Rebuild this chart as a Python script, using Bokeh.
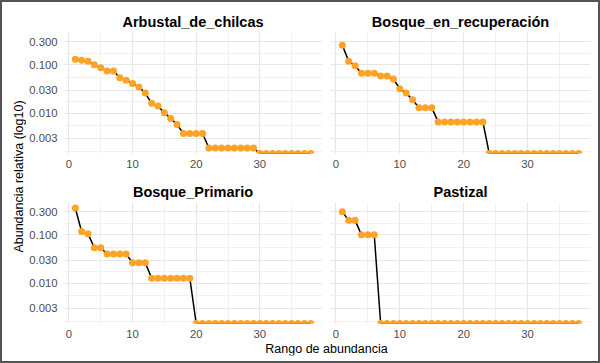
import math
from bokeh.plotting import figure
from bokeh.layouts import row, column
from bokeh.models import Range1d, FixedTicker, NumeralTickFormatter, Label
from bokeh.embed import file_html
from bokeh.resources import INLINE

# ---------------- data ----------------
ranks = list(range(1, 39))
panel_titles = ["Arbustal_de_chilcas", "Bosque_en_recuperación", "Bosque_Primario", "Pastizal"]

arbustal = [0.131, 0.125, 0.119, 0.100, 0.087, 0.075, 0.075, 0.054, 0.048, 0.041,
            0.035, 0.026, 0.016, 0.014, 0.0102, 0.0078, 0.0058, 0.0038, 0.0038, 0.0038,
            0.0038, 0.0019, 0.0019, 0.0019, 0.0019, 0.0019, 0.0019, 0.0019, 0.0019, 0,
            0, 0, 0, 0, 0, 0, 0, 0]
bosque_rec = [0.256, 0.119, 0.096, 0.067, 0.067, 0.067, 0.059, 0.059, 0.051, 0.032,
              0.026, 0.019, 0.013, 0.013, 0.013, 0.0066, 0.0066, 0.0066, 0.0066, 0.0066,
              0.0066, 0.0066, 0.0066, 0, 0, 0, 0, 0, 0, 0,
              0, 0, 0, 0, 0, 0, 0, 0]
bosque_pri = [0.36, 0.117, 0.105, 0.054, 0.054, 0.040, 0.040, 0.040, 0.040, 0.0264,
              0.0264, 0.0264, 0.0127, 0.0127, 0.0127, 0.0127, 0.0127, 0.0127, 0.0127, 0,
              0, 0, 0, 0, 0, 0, 0, 0, 0, 0,
              0, 0, 0, 0, 0, 0, 0, 0]
pastizal = [0.30, 0.20, 0.20, 0.10, 0.10, 0.10, 0, 0, 0, 0,
            0, 0, 0, 0, 0, 0, 0, 0, 0, 0,
            0, 0, 0, 0, 0, 0, 0, 0, 0, 0,
            0, 0, 0, 0, 0, 0, 0, 0]

x_ticks = [0, 10, 20, 30]
x_minor = [5, 15, 25, 35]
y_ticks = [0.003, 0.01, 0.03, 0.1, 0.3]

x_title = "Rango de abundancia"
y_title = "Abundancia relativa (log10)"

# ---------------- styling ----------------
ORANGE = "#FFA328"
GRID = "#E6E6E6"
FONT = "Liberation Sans"

series = [arbustal, bosque_rec, bosque_pri, pastizal]

# scales (ggplot-like 5% expansion, log10 on y)
pos = [v for s in series for v in s if v > 0]
lmin, lmax = math.log10(min(pos)), math.log10(max(pos))
dl = lmax - lmin
ylo, yhi = 10 ** (lmin - 0.05 * dl), 10 ** (lmax + 0.05 * dl)
dx = max(ranks) - min(ranks)
xlo, xhi = min(ranks) - 0.05 * dx, max(ranks) + 0.05 * dx

# minor breaks: midpoints (in log space) between majors, extended below
lt = [math.log10(t) for t in y_ticks]
step = lt[1] - lt[0]
ext = [lt[0] - step] + lt
y_minor = [10 ** ((a + b) / 2) for a, b in zip(ext[:-1], ext[1:])]


def make_panel(title, values, show_y, width, height, bl, br, bt, bb):
    p = figure(width=width, height=height,
               x_range=Range1d(xlo, xhi), y_range=Range1d(ylo, yhi),
               y_axis_type="log", output_backend="svg", toolbar_location=None,
               y_axis_location="left" if show_y else None,
               min_border_left=bl, min_border_right=br,
               min_border_top=bt, min_border_bottom=bb, title=title)
    p.outline_line_color = None
    p.background_fill_color = "white"
    p.border_fill_color = "white"
    p.title.align = "center"
    p.title.text_font = FONT
    p.title.text_font_size = "14.5px"
    p.title.text_font_style = "bold"
    p.title.text_color = "black"
    p.title.standoff = 5

    xt = FixedTicker(ticks=x_ticks, minor_ticks=x_minor)
    yt = FixedTicker(ticks=y_ticks, minor_ticks=y_minor)
    p.xaxis.ticker = xt
    p.xgrid.ticker = xt
    p.ygrid.ticker = yt
    axes = list(p.xaxis)
    if show_y:
        p.yaxis.ticker = yt
        p.yaxis.formatter = NumeralTickFormatter(format="0.000")
        axes += list(p.yaxis)
    for ax in axes:
        ax.axis_line_color = None
        ax.major_tick_line_color = None
        ax.minor_tick_line_color = None
        ax.major_tick_out = 0
        ax.major_tick_in = 0
        ax.minor_tick_out = 0
        ax.minor_tick_in = 0
        ax.major_label_text_font = FONT
        ax.major_label_text_font_size = "11.3px"
        ax.major_label_text_color = "#4D4D4D"
        ax.major_label_standoff = 6
    for g in (p.xgrid, p.ygrid):
        g.grid_line_color = GRID
        g.grid_line_width = 1.2
        g.minor_grid_line_color = "#EEEEEE"
        g.minor_grid_line_width = 0.8

    # zero abundances (log10 -> -Inf) are drawn on the lower panel edge, like ggplot
    yplot = [v if v > 0 else ylo for v in values]
    p.line(ranks, yplot, line_color="black", line_width=1.5)
    p.scatter(ranks, yplot, size=7, fill_color=ORANGE, line_color=None)
    return p


tl = make_panel(panel_titles[0], series[0], True, 300, 176, 36, 4, 30, 25)
tr = make_panel(panel_titles[1], series[1], False, 272, 176, 4, 8, 30, 25)
bl = make_panel(panel_titles[2], series[2], True, 300, 163, 36, 4, 24, 18)
br = make_panel(panel_titles[3], series[3], False, 272, 163, 4, 8, 24, 18)


def title_fig(width, height, bl, br, bt, bb, text, angle):
    f = figure(width=width, height=height, x_range=Range1d(0, 1), y_range=Range1d(0, 1),
               output_backend="svg", toolbar_location=None,
               x_axis_location=None, y_axis_location=None,
               min_border_left=bl, min_border_right=br, min_border_top=bt, min_border_bottom=bb)
    f.grid.visible = False
    f.outline_line_color = None
    f.background_fill_color = "white"
    f.border_fill_color = "white"
    f.add_layout(Label(x=0.5, y=0.5, text=text, angle=angle, text_align="center",
                       text_baseline="middle", text_font=FONT, text_font_size="12.5px",
                       text_color="black"))
    return f


ytf = title_fig(24, 339, 8, 0, 9, 0, y_title, math.pi / 2)
xtf = title_fig(596, 20, 58, 6, 0, 6, x_title, 0)

layout = column(row(ytf, column(row(tl, tr), row(bl, br))), xtf,
                margin=(2, 2, 2, 2), styles={"outline": "2px solid #555555"})

open("out.html", "w").write(file_html(layout, INLINE))
